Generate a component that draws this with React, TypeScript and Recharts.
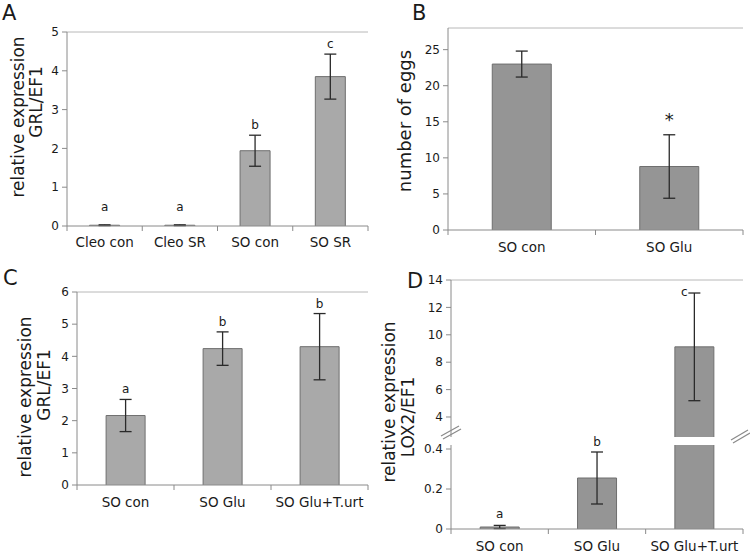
import { BarChart, Bar, XAxis, YAxis, ErrorBar, ReferenceLine } from 'recharts';

// ─── Data ───────────────────────────────────────────────────
const catsA = ['Cleo con', 'Cleo SR', 'SO con', 'SO SR'];
const valsA = [0.02, 0.02, 1.94, 3.85];
const errsA = [0.01, 0.01, 0.4, 0.58];
const lettersA = ['a', 'a', 'b', 'c'];
const ticksA = [0, 1, 2, 3, 4, 5];

const catsB = ['SO con', 'SO Glu'];
const valsB = [23.0, 8.8];
const errsB = [1.8, 4.4];
const lettersB = ['', '*'];
const ticksB = [0, 5, 10, 15, 20, 25];

const catsC = ['SO con', 'SO Glu', 'SO Glu+T.urt'];
const valsC = [2.16, 4.24, 4.3];
const errsC = [0.5, 0.52, 1.03];
const lettersC = ['a', 'b', 'b'];
const ticksC = [0, 1, 2, 3, 4, 5, 6];

const catsD = ['SO con', 'SO Glu', 'SO Glu+T.urt'];
const valsD = [0.01, 0.255, 9.12];
const errsD = [0.008, 0.13, 3.93];
const lettersD = ['a', 'b', 'c'];
const ticksDUpper = [4, 6, 8, 10, 12, 14];
const ticksDLower = [0, 0.2, 0.4];
const breakLow = 0.42; // top of lower segment
const breakHigh = 2.54; // bottom of upper segment

const FONT = 'DejaVu Sans, sans-serif';
const AXIS = '#8a8a8a';
const FRAME = '#b8b8b8';
const EDGE = '#6f6f6f';
const INK = '#1a1a1a';

type Margin = { top: number; right: number; bottom: number; left: number };

interface PanelProps {
  left: number;
  top: number;
  width: number;
  height: number;
  margin: Margin;
  yWidth: number;
  cats: string[];
  vals: (number | null)[];
  errs: (number | null)[];
  letters: string[];
  domain: [number, number];
  ticks: number[];
  fill: string;
  showX?: boolean;
  xHeight?: number;
  labelDy?: number;
  topLine?: boolean;
  letterSize?: number;
  letterGap?: number;
  floor?: number;
  shift?: [number, number];
}

// category label + boundary tick marks under the x axis
function CatTick(props: any) {
  const { x, y, payload, index, step, n, dy } = props;
  const left = x - step / 2;
  const right = x + step / 2;
  return (
    <g>
      <line x1={left} x2={left} y1={y} y2={y + 5} stroke={AXIS} />
      {index === n - 1 && <line x1={right} x2={right} y1={y} y2={y + 5} stroke={AXIS} />}
      <text x={x} y={y + dy} textAnchor="middle" fill={INK} fontSize={13.5} fontFamily={FONT}>
        {payload.value}
      </text>
    </g>
  );
}

// bar without bottom edge (so the broken bar in D looks cut)
function BarShape(props: any) {
  const { x, y, width, height, fill } = props;
  if (!height) return <g />;
  const bottom = y + height;
  return <path d={`M${x},${bottom}V${y}H${x + width}V${bottom}`} fill={fill} stroke={EDGE} strokeWidth={1} />;
}

function Panel(p: PanelProps) {
  const data = p.cats.map((c, i) => ({ c, v: p.vals[i], e: p.errs[i] }));
  const plotW = p.width - p.margin.left - p.margin.right - p.yWidth;
  const step = plotW / p.cats.length;
  const base = p.domain[0] > 0 ? p.domain[0] : 0;
  const gap = p.letterGap ?? 6;
  const floor = p.floor ?? 11;
  const [sx, sy] = p.shift ?? [0, 0];

  // significance letter above the error bar
  const renderLetter = (lp: any) => {
    const vb = lp.viewBox ?? {};
    const x = lp.x ?? vb.x;
    const y = lp.y ?? vb.y;
    const width = lp.width ?? vb.width;
    const height = lp.height ?? vb.height;
    const byValue = typeof lp.value === 'number' ? p.vals.indexOf(lp.value) : -1;
    const i = byValue >= 0 ? byValue : lp.index;
    const v = p.vals[i];
    const letter = p.letters[i];
    if (v == null || !letter || !height) return null;
    const bottom = y + height;
    const ppu = height / (v - base);
    const errTop = y - (p.errs[i] ?? 0) * ppu;
    const ly = Math.min(errTop - gap, bottom - floor) + sy;
    return (
      <text key={`l${i}`} x={x + width / 2 + sx} y={ly} textAnchor="middle" fill={INK}
        fontSize={p.letterSize ?? 12} fontFamily={FONT}>
        {letter}
      </text>
    );
  };

  return (
    <div style={{ position: 'absolute', left: p.left, top: p.top }}>
      <BarChart width={p.width} height={p.height} data={data} margin={p.margin} barCategoryGap="30%">
        <XAxis
          dataKey="c"
          hide={!p.showX}
          height={p.xHeight ?? 30}
          interval={0}
          tickSize={0}
          tickMargin={0}
          tickLine={false}
          axisLine={{ stroke: AXIS }}
          tick={(tp: any) => <CatTick {...tp} step={step} n={p.cats.length} dy={p.labelDy ?? 22} />}
        />
        <YAxis
          type="number"
          width={p.yWidth}
          domain={p.domain}
          ticks={p.ticks}
          allowDataOverflow
          interval={0}
          tickSize={5}
          tickMargin={3}
          tickLine={{ stroke: AXIS }}
          axisLine={{ stroke: AXIS }}
          tick={{ fill: INK, fontSize: 12, fontFamily: FONT }}
        />
        <YAxis
          yAxisId="r"
          orientation="right"
          width={0}
          domain={[0, 1]}
          tick={false}
          tickLine={false}
          axisLine={{ stroke: FRAME }}
        />
        {p.topLine && <ReferenceLine y={p.domain[1]} stroke={FRAME} />}
        <Bar dataKey="v" fill={p.fill} isAnimationActive={false} shape={BarShape} label={renderLetter}>
          <ErrorBar dataKey="e" width={6} stroke="#2a2a2a" strokeWidth={1.3} />
        </Bar>
      </BarChart>
    </div>
  );
}

export default function App() {
  const upperVals = valsD.map(v => (v >= breakHigh ? v : null));
  const upperErrs = errsD.map((e, i) => (valsD[i] >= breakHigh ? e : null));
  const upperLetters = lettersD.map((l, i) => (valsD[i] >= breakHigh ? l : ''));
  const lowerErrs = errsD.map((e, i) => (valsD[i] < breakLow ? e : null));
  const lowerLetters = lettersD.map((l, i) => (valsD[i] < breakLow ? l : ''));

  return (
    <div style={{ position: 'absolute', left: 0, top: 0, width: 750, height: 555, background: '#fff', fontFamily: FONT }}>
      <Panel
        left={0} top={0} width={375} height={260}
        margin={{ top: 32, right: 7, bottom: 4, left: 45 }} yWidth={22}
        cats={catsA} vals={valsA} errs={errsA} letters={lettersA}
        domain={[0, 5]} ticks={ticksA} fill="#a9a9a9"
        showX xHeight={30} labelDy={21} topLine floor={15}
      />
      <Panel
        left={375} top={0} width={375} height={260}
        margin={{ top: 28, right: 7, bottom: 4, left: 50 }} yWidth={23}
        cats={catsB} vals={valsB} errs={errsB} letters={lettersB}
        domain={[0, 28]} ticks={ticksB} fill="#959595"
        showX xHeight={26} labelDy={22} topLine letterSize={18} letterGap={9}
      />
      <Panel
        left={0} top={260} width={375} height={295}
        margin={{ top: 32, right: 7, bottom: 40, left: 55 }} yWidth={22}
        cats={catsC} vals={valsC} errs={errsC} letters={lettersC}
        domain={[0, 6]} ticks={ticksC} fill="#a9a9a9"
        showX xHeight={30} labelDy={22} topLine
      />
      {/* D: broken axis, upper segment */}
      <Panel
        left={375} top={260} width={375} height={177}
        margin={{ top: 20, right: 7, bottom: 0, left: 54 }} yWidth={22}
        cats={catsD} vals={upperVals} errs={upperErrs} letters={upperLetters}
        domain={[breakHigh, 14]} ticks={ticksDUpper} fill="#959595"
        topLine shift={[-10, 8.5]}
      />
      {/* D: lower segment */}
      <Panel
        left={375} top={426} width={375} height={129}
        margin={{ top: 19, right: 7, bottom: 0, left: 54 }} yWidth={22}
        cats={catsD} vals={valsD} errs={lowerErrs} letters={lowerLetters}
        domain={[0, breakLow]} ticks={ticksDLower} fill="#959595"
        showX xHeight={26} labelDy={22}
      />

      <svg width={750} height={555} style={{ position: 'absolute', left: 0, top: 0, pointerEvents: 'none' }}>
        <g fill={INK} fontFamily={FONT}>
          <text x={2} y={20} fontSize={21}>A</text>
          <text x={412} y={20} fontSize={21}>B</text>
          <text x={3} y={285} fontSize={21}>C</text>
          <text x={407} y={288} fontSize={21}>D</text>

          <text transform="translate(24,117) rotate(-90)" textAnchor="middle" fontSize={17}>relative expression</text>
          <text transform="translate(42,102) rotate(-90)" textAnchor="middle" fontSize={17}>GRL/EF1</text>

          <text transform="translate(411,121) rotate(-90)" textAnchor="middle" fontSize={18}>number of eggs</text>

          <text transform="translate(31,397) rotate(-90)" textAnchor="middle" fontSize={17}>relative expression</text>
          <text transform="translate(50,385) rotate(-90)" textAnchor="middle" fontSize={17}>GRL/EF1</text>

          <text transform="translate(395,402) rotate(-90)" textAnchor="middle" fontSize={17}>relative expression</text>
          <text transform="translate(414,417) rotate(-90)" textAnchor="middle" fontSize={17}>LOX2/EF1</text>
        </g>
        {/* axis break marks */}
        <g stroke={AXIS} strokeWidth={1.2}>
          <line x1={441} y1={436} x2={459} y2={426} />
          <line x1={443} y1={439} x2={461} y2={429} />
          <line x1={731} y1={440} x2={748} y2={430} />
          <line x1={733} y1={443} x2={750} y2={433} />
        </g>
      </svg>
    </div>
  );
}
